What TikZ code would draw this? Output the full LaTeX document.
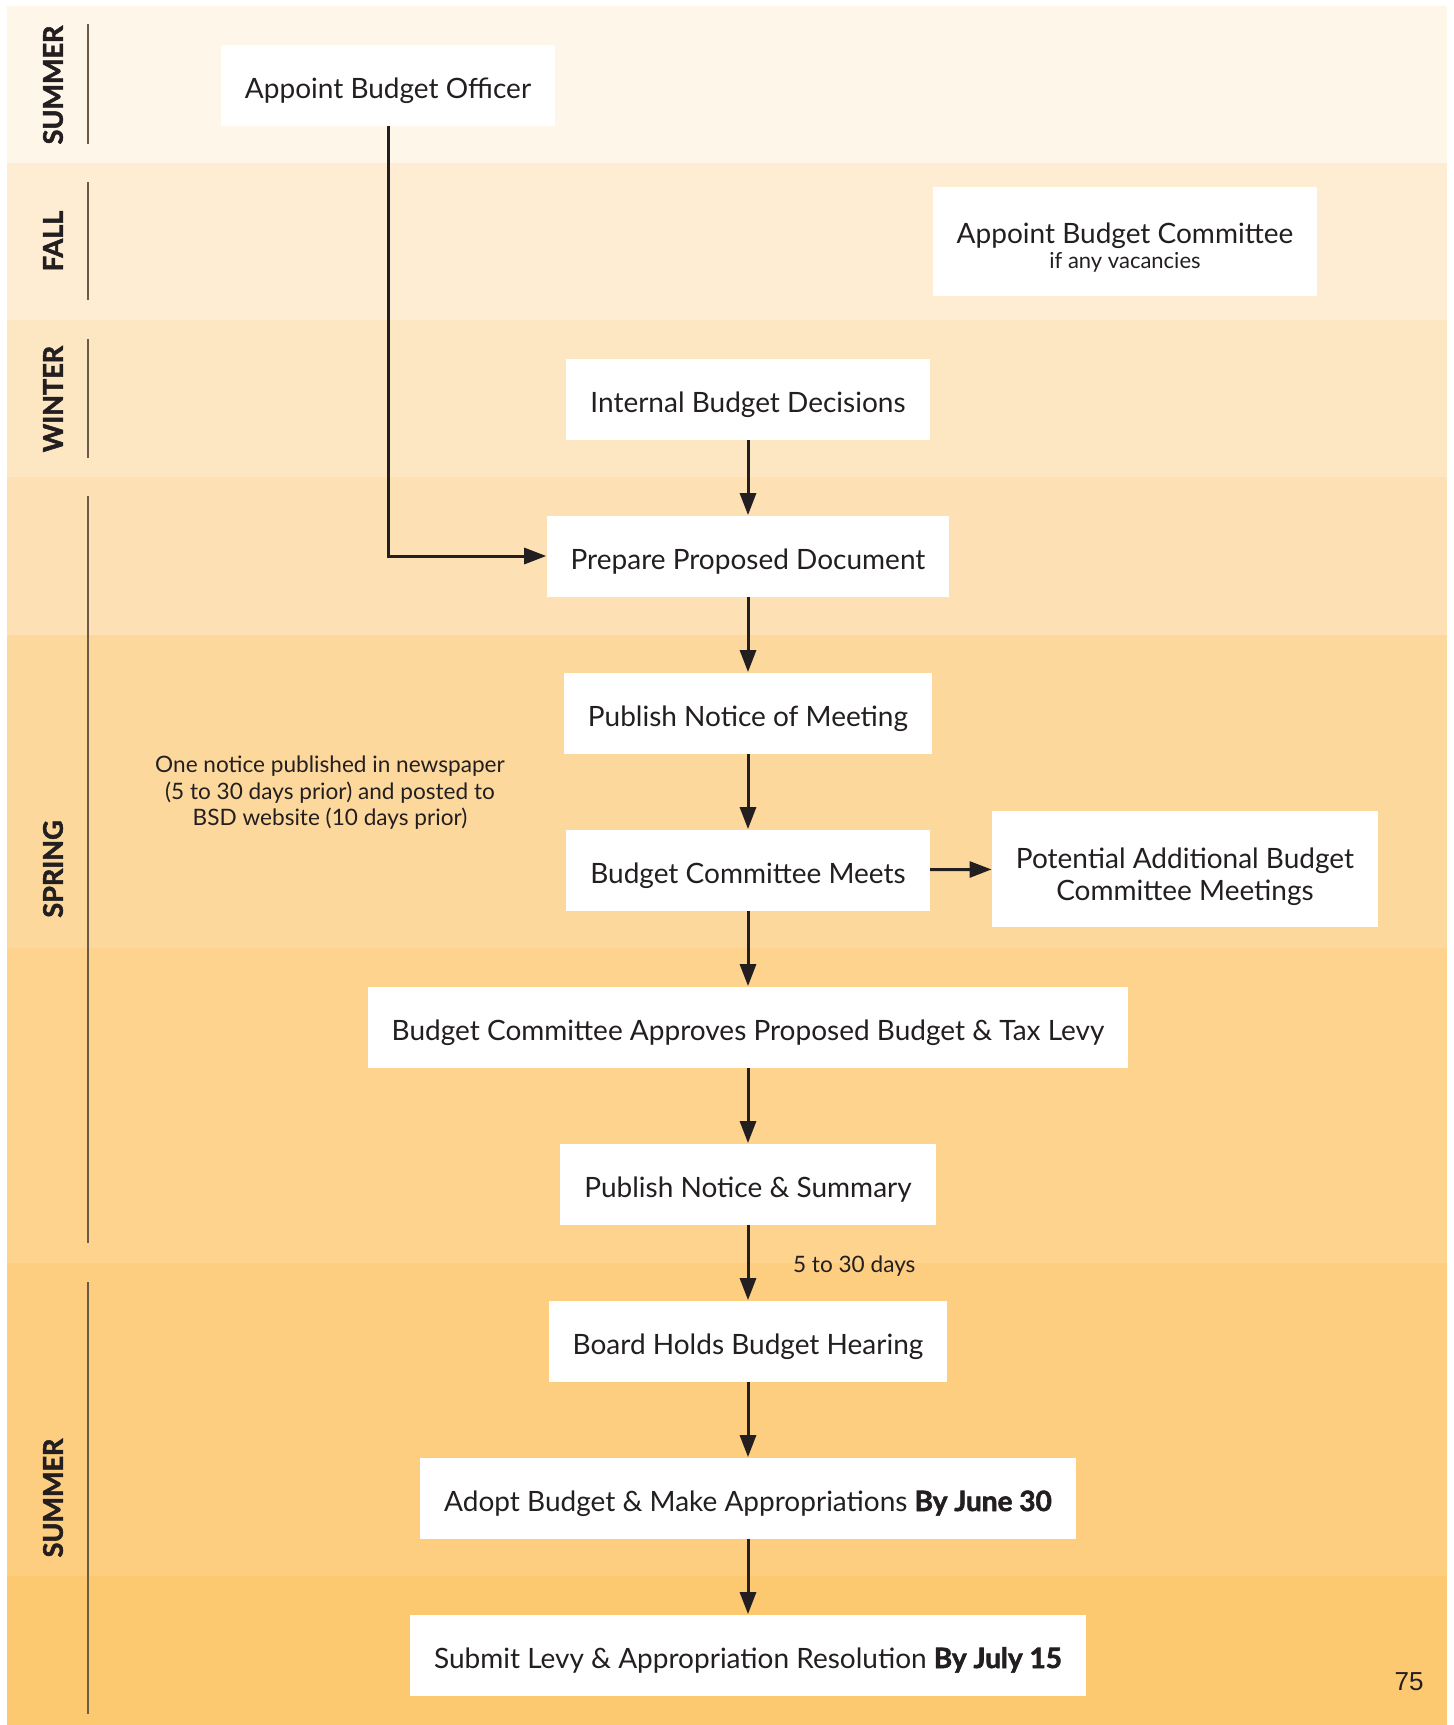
\documentclass[tikz,border=0pt]{standalone}
\usepackage{fontspec}
\setmainfont{Lato}
\newfontfamily\heavyfont{Lato}[BoldFeatures={FakeBold=2}]
\newfontfamily\pagefont{Liberation Sans}
\usetikzlibrary{positioning,arrows.meta}
\usepackage{xcolor}
\definecolor{ink}{HTML}{231F20}
\definecolor{rule}{HTML}{6A5A48}
\definecolor{bandA}{HTML}{FEF6E8}
\definecolor{bandB}{HTML}{FEEDD2}
\definecolor{bandC}{HTML}{FDE6C2}
\definecolor{bandD}{HTML}{FDE0B3}
\definecolor{bandE}{HTML}{FDD89C}
\definecolor{bandF}{HTML}{FDD38E}
\definecolor{bandG}{HTML}{FDCD80}
\definecolor{bandH}{HTML}{FCC870}
\newcommand{\deadline}[1]{{\heavyfont\bfseries #1}}

\begin{document}
\begin{tikzpicture}[x=0.5pt, y=-0.5pt,
    box/.style={rectangle, fill=white, minimum height=40.5pt, inner xsep=12pt, text height=16pt, text depth=3pt, text=ink, font=\fontsize{14}{16}\selectfont, align=center},
    arrow/.style={-{Triangle[length=11pt,width=8pt]}, line width=1.5pt, draw=ink},
    season/.style={rotate=90, font=\heavyfont\bfseries\fontsize{13.5}{13.5}\selectfont, text=ink},
    tick/.style={draw=rule, line width=1pt},
    note/.style={text=ink, font=\fontsize{11.3}{13.2}\selectfont, align=center}
]
    \useasboundingbox (0,0) rectangle (1453,1725);

    % Season bands
    \fill[bandA] (7,6) rectangle (1447,163);
    \fill[bandB] (7,163) rectangle (1447,320);
    \fill[bandC] (7,320) rectangle (1447,477);
    \fill[bandD] (7,477) rectangle (1447,635);
    \fill[bandE] (7,635) rectangle (1447,948);
    \fill[bandF] (7,948) rectangle (1447,1263);
    \fill[bandG] (7,1263) rectangle (1447,1576);
    \fill[bandH] (7,1576) rectangle (1447,1725);

    % Season labels
    \node[season] (summerA) at (53,85) {SUMMER};
    \node[season] (fall) at (53,241) {FALL};
    \node[season] (winter) at (53,399) {WINTER};
    \node[season] (spring) at (53,869) {SPRING};
    \node[season] (summerB) at (53,1498) {SUMMER};
    \draw[tick] (88,24) -- (88,144);
    \draw[tick] (88,182) -- (88,300);
    \draw[tick] (88,339) -- (88,458);
    \draw[tick] (88,496) -- (88,1243);
    \draw[tick] (88,1282) -- (88,1714);

    % Appointments
    \node[box] (officer) at (388,85) {Appoint Budget Officer};
    \node[box, minimum height=54.5pt, text height=30pt] (committee) at (1125,241) {Appoint Budget Committee\\[-3.5pt]{\fontsize{11}{12}\selectfont if any vacancies}};

    % Main steps
    \node[box] (internal) at (748,399) {Internal Budget Decisions};
    \node[box] (prepare) at (748,556) {Prepare Proposed Document};
    \node[box] (noticemeet) at (748,713) {Publish Notice of Meeting};
    \node[box] (meets) at (748,870) {Budget Committee Meets};
    \node[box, minimum height=58pt, text height=34pt] (additional) at (1185,869) {Potential Additional Budget\\Committee Meetings};
    \node[box] (approves) at (748,1027) {Budget Committee Approves Proposed Budget \& Tax Levy};
    \node[box] (summary) at (748,1184) {Publish Notice \& Summary};
    \node[box] (hearing) at (748,1341) {Board Holds Budget Hearing};
    \node[box] (adopt) at (748,1498) {Adopt Budget \& Make Appropriations \deadline{By June 30}};
    \node[box] (submit) at (748,1655) {Submit Levy \& Appropriation Resolution \deadline{By July 15}};

    % Notes
    \node[note] (newspaper) at (330,793) {One notice published in newspaper\\(5 to 30 days prior) and posted to\\BSD website (10 days prior)};
    \node[note, anchor=west] (days) at (786,1266) {5 to 30 days};
    \node[text=ink, font=\pagefont\fontsize{13}{13}\selectfont] (page) at (1409,1682) {75};

    % Arrows
    \draw[arrow] (officer.south) |- (prepare.west);
    \draw[arrow] (internal) -- (prepare);
    \draw[arrow] (prepare) -- (noticemeet);
    \draw[arrow] (noticemeet) -- (meets);
    \draw[arrow] (meets) -- (additional);
    \draw[arrow] (meets) -- (approves);
    \draw[arrow] (approves) -- (summary);
    \draw[arrow] (summary) -- (hearing);
    \draw[arrow] (hearing) -- (adopt);
    \draw[arrow] (adopt) -- (submit);
\end{tikzpicture}
\end{document}
